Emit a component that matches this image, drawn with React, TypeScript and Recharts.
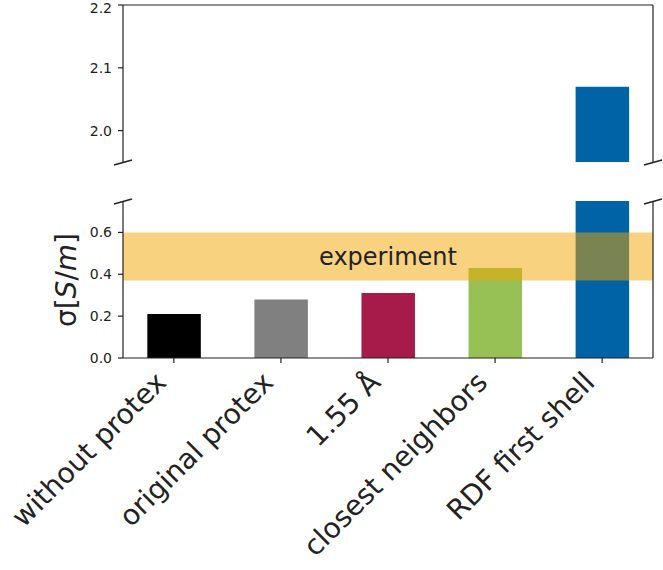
import React from 'react';
import { ComposedChart, Bar, Cell, XAxis, YAxis, ReferenceArea, ReferenceLine } from 'recharts';

const categories = ['without protex', 'original protex', '1.55 Å', 'closest neighbors', 'RDF first shell'];
const conductivity = [0.21, 0.28, 0.31, 0.43, 2.07];
const barColors = ['#000000', '#808080', '#A61B4A', '#97C155', '#0063A6'];
const lowerTicks = [0, 0.2, 0.4, 0.6];
const upperTicks = [2.0, 2.1, 2.2];
const lowerDomain: [number, number] = [0, 0.75];
const upperDomain: [number, number] = [1.95, 2.2];
const experimentRange = [0.37, 0.6];
const xDomain: [number, number] = [-0.475, 4.475];
const xTicks = [0, 1, 2, 3, 4];

const lowerRows = categories.map((name, i) => ({ x: i, name, value: conductivity[i] }));
const upperRows = categories.map((name, i) => ({
  x: i,
  name,
  value: conductivity[i] >= upperDomain[0] ? conductivity[i] : null,
}));

const INK = '#222';
const FONT = 'DejaVu Sans';

const XTick = (props: any) => {
  const { x, y, payload } = props;
  const label = categories[payload.value];
  const ax = x - 6;
  const ay = y + 21;
  return (
    <text
      x={ax}
      y={ay}
      transform={`rotate(-45, ${ax}, ${ay})`}
      textAnchor="end"
      fontSize={28}
      fontFamily={FONT}
      fill={INK}
    >
      {label}
    </text>
  );
};

const fmt = (v: number) => v.toFixed(1);

export default function App() {
  return (
    <div style={{ position: 'absolute', left: 0, top: 0, width: 663, height: 570, background: '#fff', fontFamily: FONT }}>
      <div style={{ position: 'absolute', left: 0, top: 0 }}>
        <ComposedChart width={663} height={170} data={upperRows} margin={{ top: 5, right: 10, bottom: 8, left: 63 }}>
          <XAxis dataKey="x" type="number" domain={xDomain} ticks={xTicks} hide allowDataOverflow />
          <YAxis
            type="number"
            domain={upperDomain}
            ticks={upperTicks}
            allowDataOverflow
            width={60}
            tickSize={5}
            tickMargin={6}
            tickFormatter={fmt}
            axisLine={{ stroke: INK, strokeWidth: 1.2 }}
            tickLine={{ stroke: INK, strokeWidth: 1.2 }}
            tick={{ fontSize: 14, fill: INK, fontFamily: FONT }}
          />
          <Bar dataKey="value" barSize={53.5} isAnimationActive={false}>
            {upperRows.map((r, i) => (
              <Cell key={r.name} fill={barColors[i]} />
            ))}
          </Bar>
          <ReferenceLine y={upperDomain[1]} stroke={INK} strokeWidth={1.2} ifOverflow="visible" />
          <ReferenceLine x={xDomain[1]} stroke={INK} strokeWidth={1.2} ifOverflow="visible" />
        </ComposedChart>
      </div>
      <div style={{ position: 'absolute', left: 0, top: 180 }}>
        <ComposedChart width={663} height={390} data={lowerRows} margin={{ top: 21, right: 10, bottom: 12, left: 63 }}>
          <XAxis
            dataKey="x"
            type="number"
            domain={xDomain}
            ticks={xTicks}
            allowDataOverflow
            height={200}
            tickSize={5}
            tickMargin={0}
            axisLine={{ stroke: INK, strokeWidth: 1.2 }}
            tickLine={{ stroke: INK, strokeWidth: 1.2 }}
            tick={<XTick />}
            interval={0}
          />
          <YAxis
            type="number"
            domain={lowerDomain}
            ticks={lowerTicks}
            allowDataOverflow
            width={60}
            tickSize={5}
            tickMargin={6}
            tickFormatter={fmt}
            axisLine={{ stroke: INK, strokeWidth: 1.2 }}
            tickLine={{ stroke: INK, strokeWidth: 1.2 }}
            tick={{ fontSize: 14, fill: INK, fontFamily: FONT }}
          />
          <Bar dataKey="value" barSize={53.5} isAnimationActive={false}>
            {lowerRows.map((r, i) => (
              <Cell key={r.name} fill={barColors[i]} />
            ))}
          </Bar>
          <ReferenceArea
            y1={experimentRange[0]}
            y2={experimentRange[1]}
            fill="#F3A500"
            fillOpacity={0.5}
            stroke="none"
            zIndex={350}
            ifOverflow="visible"
            label={{ value: 'experiment', position: 'center', fontSize: 24, fill: INK, fontFamily: FONT }}
          />
          <ReferenceLine x={xDomain[1]} stroke={INK} strokeWidth={1.2} ifOverflow="visible" />
        </ComposedChart>
      </div>
      <svg width={663} height={570} style={{ position: 'absolute', left: 0, top: 0, pointerEvents: 'none' }}>
        <g stroke={INK} strokeWidth={1.5}>
          <line x1={114} y1={165} x2={132} y2={160} />
          <line x1={114} y1={204} x2={132} y2={199} />
          <line x1={644} y1={165} x2={662} y2={160} />
          <line x1={644} y1={204} x2={662} y2={199} />
        </g>
        <text
          x={76}
          y={280}
          transform="rotate(-90, 76, 280)"
          textAnchor="middle"
          fontSize={28}
          fontFamily={FONT}
          fill={INK}
        >
          <tspan>σ[</tspan>
          <tspan fontStyle="italic">S</tspan>
          <tspan>/</tspan>
          <tspan fontStyle="italic">m</tspan>
          <tspan>]</tspan>
        </text>
      </svg>
    </div>
  );
}
